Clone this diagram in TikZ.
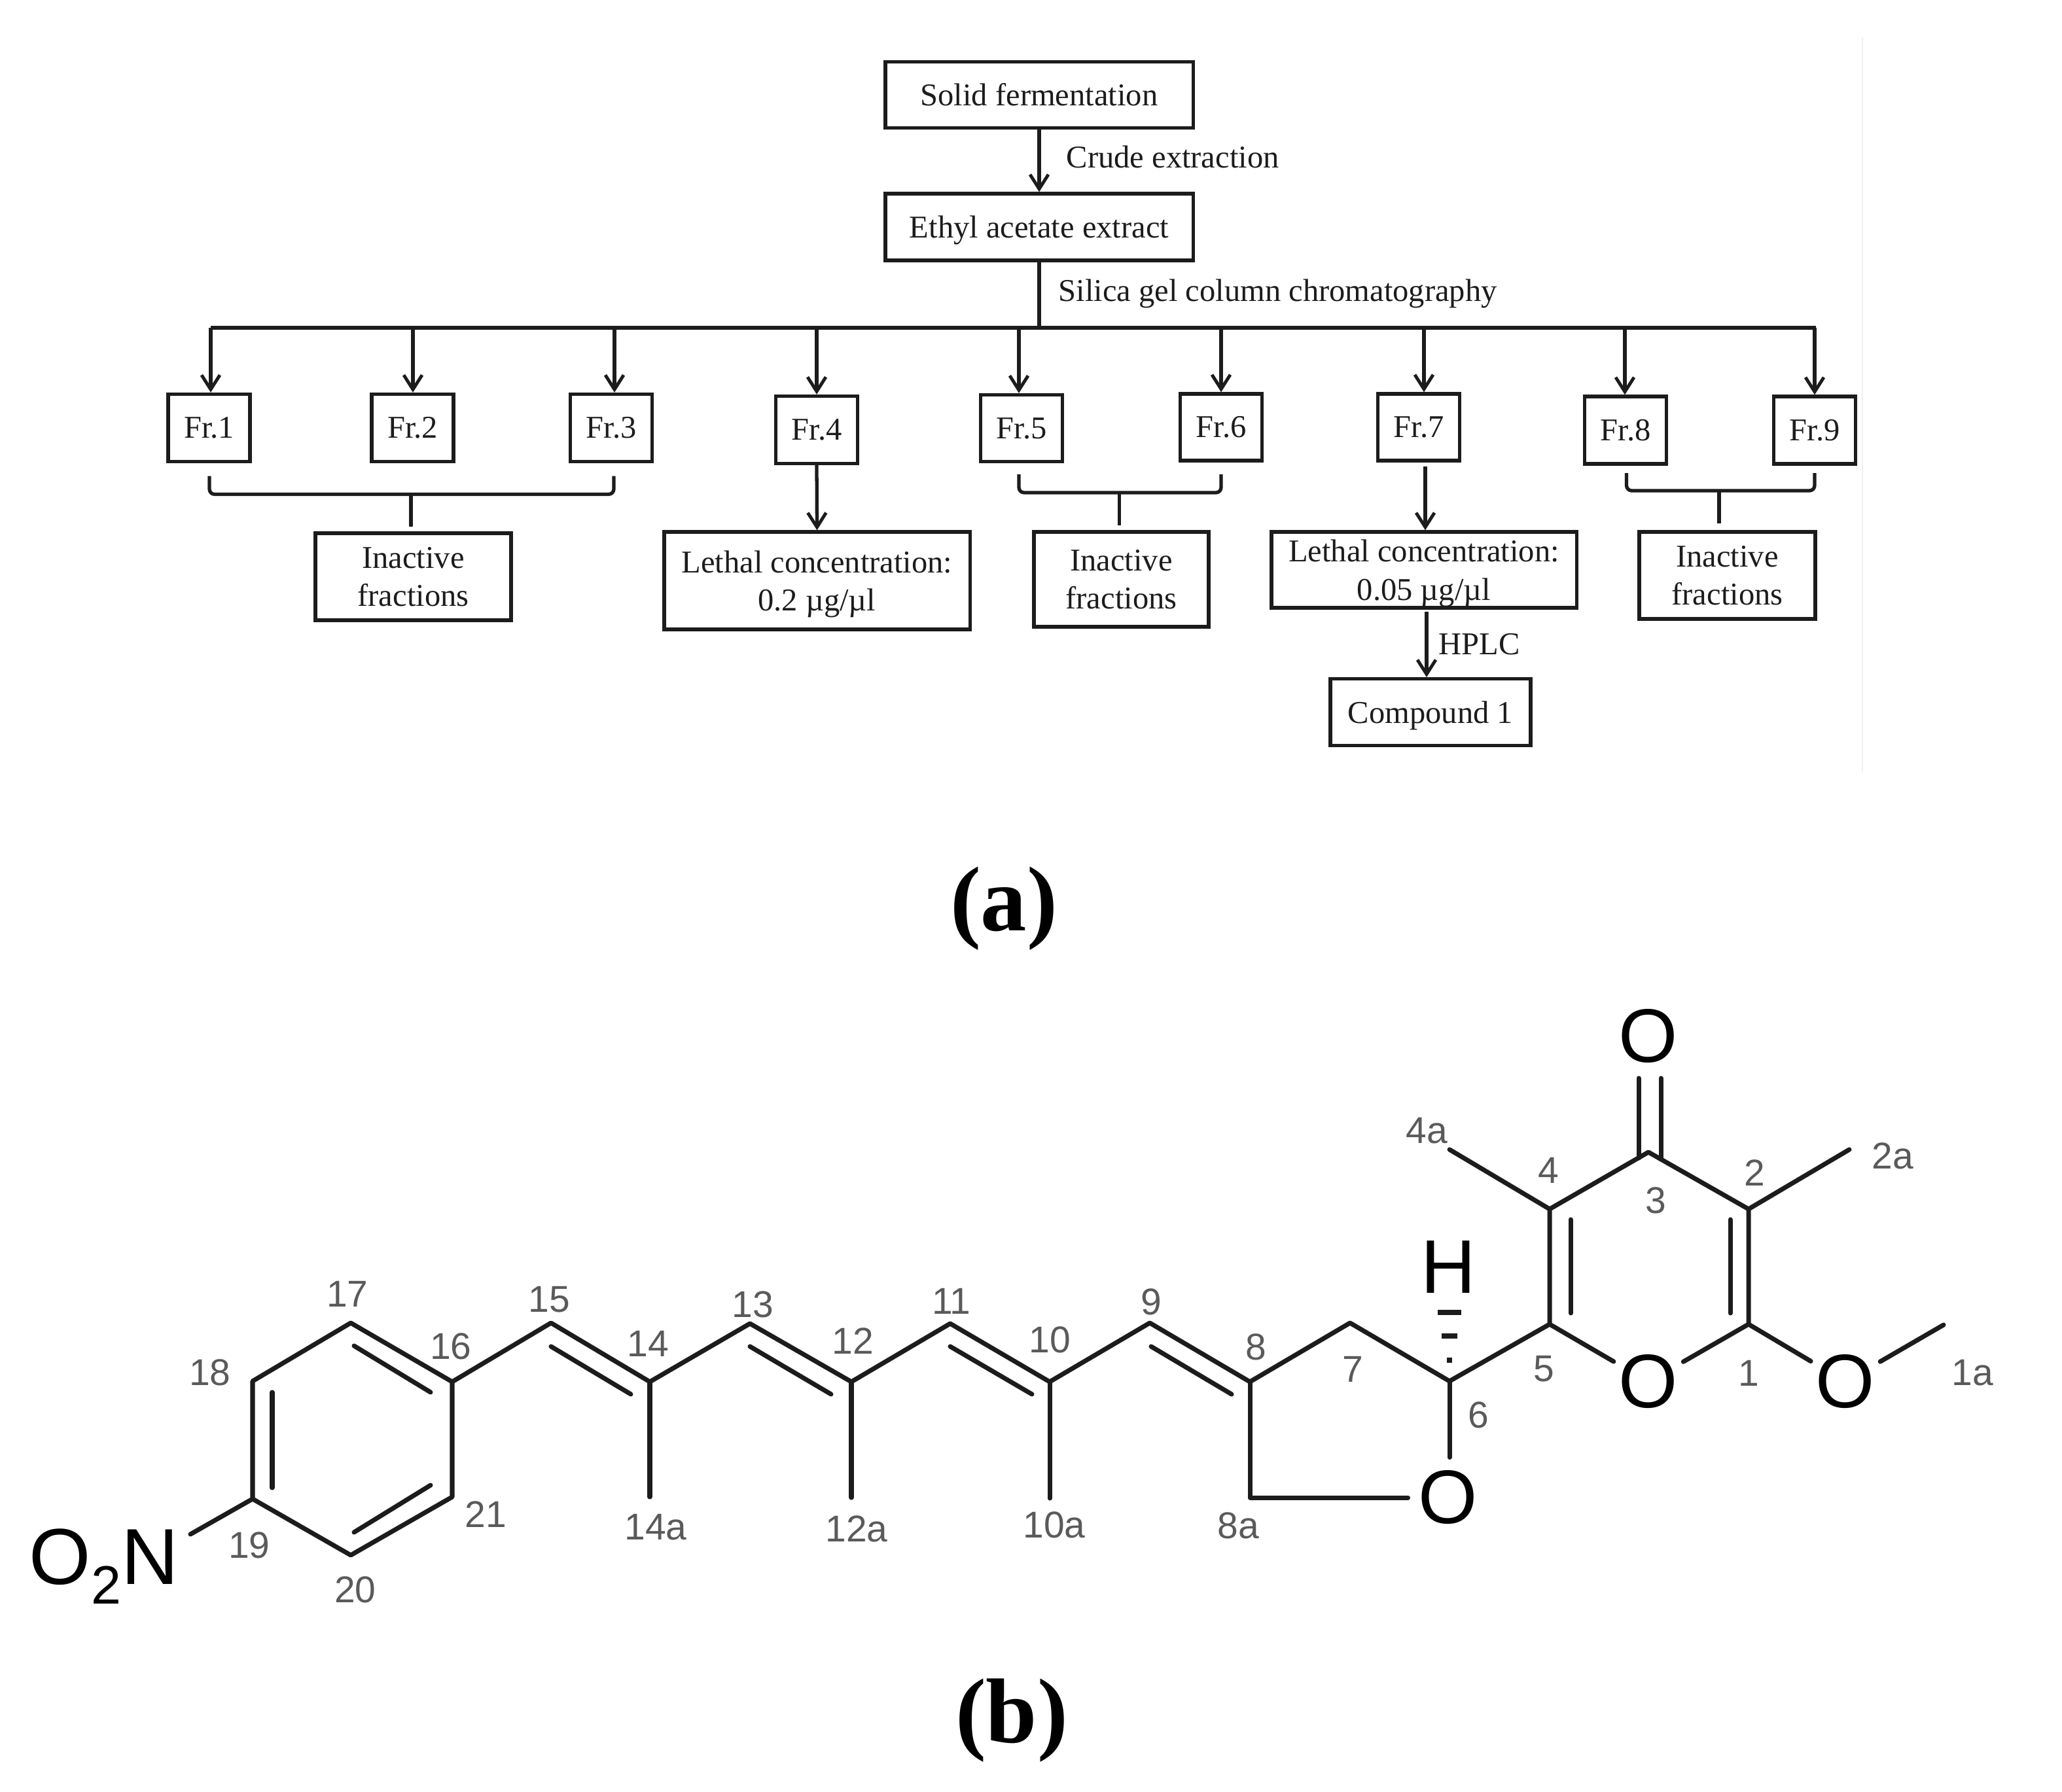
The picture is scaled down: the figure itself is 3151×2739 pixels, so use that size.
\documentclass[tikz,border=0pt]{standalone}
\usepackage{fontspec}
\setmainfont{Liberation Serif}
\newfontfamily\molfont{Liberation Sans}
\usetikzlibrary{arrows.meta}
\definecolor{ink}{HTML}{1C1C1C}
\definecolor{numgray}{HTML}{5A5A5A}
\definecolor{faint}{HTML}{F0F0F0}
\tikzset{
  fbox/.style={draw=ink,line width=1.5pt,fill=white,inner sep=0pt,align=center,text=ink,
    font=\fontsize{13.8}{16.6}\selectfont},
  nodepth/.style={text depth=0pt},
  flabel/.style={inner sep=0pt,anchor=west,text=ink,font=\fontsize{13.8}{16.6}\selectfont},
  flow/.style={draw=ink,line width=1.5pt},
  arr/.style={flow,-{Straight Barb[length=2.2mm,width=2.8mm,line width=1.4pt]}},
  brk/.style={flow,rounded corners=0.08cm},
  panel/.style={inner sep=0pt,text=black,font=\fontsize{40}{44}\selectfont\bfseries},
  bond/.style={draw=ink,line width=2pt,line cap=round,line join=round},
  atom/.style={circle,inner sep=0pt,minimum size=1.2cm,text=black,
    font=\molfont\fontsize{33}{36}\selectfont},
  num/.style={inner sep=0pt,text=numgray,font=\molfont\fontsize{16.2}{18}\selectfont},
}
\begin{document}
\begin{tikzpicture}[x=0.01cm,y=-0.01cm]
\useasboundingbox[fill=white] (0,0) rectangle (3151,2739);
\draw[faint,line width=0.8pt] (2846,57) -- (2846,1180);

% --- flow chart boxes
\node[fbox,minimum width=4.7cm,minimum height=1.01cm] (solid) at (1588,145) {Solid fermentation};
\node[fbox,nodepth,minimum width=4.7cm,minimum height=1.02cm] (ethyl) at (1588,347) {Ethyl acetate extract};
\node[fbox,minimum width=1.25cm,minimum height=1.03cm] (fr1) at (319.5,654) {Fr.1};
\node[fbox,minimum width=1.25cm,minimum height=1.03cm] (fr2) at (630.5,654) {Fr.2};
\node[fbox,minimum width=1.25cm,minimum height=1.03cm] (fr3) at (934,654) {Fr.3};
\node[fbox,minimum width=1.25cm,minimum height=1.03cm] (fr4) at (1248,657) {Fr.4};
\node[fbox,minimum width=1.25cm,minimum height=1.02cm] (fr5) at (1561,654.5) {Fr.5};
\node[fbox,minimum width=1.25cm,minimum height=1.02cm] (fr6) at (1866,653) {Fr.6};
\node[fbox,minimum width=1.25cm,minimum height=1.02cm] (fr7) at (2168,653) {Fr.7};
\node[fbox,minimum width=1.25cm,minimum height=1.03cm] (fr8) at (2484,657.5) {Fr.8};
\node[fbox,minimum width=1.25cm,minimum height=1.03cm] (fr9) at (2773,657.5) {Fr.9};
\node[fbox,minimum width=2.99cm,minimum height=1.33cm] (ina1) at (631.5,881.5) {Inactive\\fractions};
\node[fbox,nodepth,minimum width=4.67cm,minimum height=1.49cm] (leth1) at (1248.5,887.5) {Lethal concentration:\\0.2 µg/µl};
\node[fbox,minimum width=2.67cm,minimum height=1.45cm] (ina2) at (1713.5,885.5) {Inactive\\fractions};
\node[fbox,nodepth,minimum width=4.66cm,minimum height=1.16cm] (leth2) at (2176,871) {Lethal concentration:\\0.05 µg/µl};
\node[fbox,minimum width=2.69cm,minimum height=1.33cm] (ina3) at (2639.5,879.5) {Inactive\\fractions};
\node[fbox,nodepth,minimum width=3.06cm,minimum height=1.015cm] (comp) at (2186,1088.5) {Compound 1};

% --- flow labels
\node[flabel] (lcrude) at (1629,240) {Crude extraction};
\node[flabel] (lsilica) at (1617,449) {Silica gel column chromatography};
\node[flabel] (lhplc) at (2198,985) {HPLC};
\node[panel] (pa) at (1534,1389) {(a)};
\node[panel] (pb) at (1546,2630) {(b)};

% --- flow connectors
\draw[arr] (solid.south) -- (ethyl.north);
\coordinate (busL) at (322,501);
\coordinate (busR) at (2775,501);
\draw[flow] (ethyl.south) -- (ethyl.south |- busL);
\draw[flow] (busL) -- (busR);
\coordinate (t1) at (322,501);
\coordinate (t2) at (631,501);
\coordinate (t3) at (939,501);
\coordinate (t4) at (1248,501);
\coordinate (t5) at (1557,501);
\coordinate (t6) at (1866,501);
\coordinate (t7) at (2176,501);
\coordinate (t8) at (2483,501);
\coordinate (t9) at (2773,501);
\foreach \i in {1,...,9} { \draw[arr] (t\i) -- (t\i |- fr\i.north); }
\draw[arr] (fr4.south) -- (leth1.north);
\coordinate (f7a) at (2178,713);
\draw[arr] (f7a) -- (f7a |- leth2.north);
\coordinate (l2a) at (2180,935);
\draw[arr] (l2a) -- (l2a |- comp.north);

% brackets
\coordinate (b1l) at (320,727.5); \coordinate (b1r) at (938,727.5);
\coordinate (b1m) at (628,755.5); \coordinate (b1e) at (628,805);
\draw[brk] (b1l) |- (b1m) -| (b1r);
\draw[flow] (b1m) -- (b1e);
\coordinate (b2l) at (1557,725); \coordinate (b2r) at (1866,725);
\coordinate (b2m) at (1710.5,753); \coordinate (b2e) at (1710.5,803);
\draw[brk] (b2l) |- (b2m) -| (b2r);
\draw[flow] (b2m) -- (b2e);
\coordinate (b3l) at (2485.5,723); \coordinate (b3r) at (2773,723);
\coordinate (b3m) at (2627,750); \coordinate (b3e) at (2627,800);
\draw[brk] (b3l) |- (b3m) -| (b3r);
\draw[flow] (b3m) -- (b3e);

% --- molecule atoms
\foreach \n/\x/\y in {c17/536/2022,c18/386/2111,c19/386/2291,c20/536/2377,c21/691/2288,c16/691/2112,
  c15/842/2022,c14/993/2112,c13/1146/2023,c12/1301/2112,c11/1452/2023,c10/1604/2112,c9/1757/2022,
  c8/1910/2112,c7/2063/2022,c6/2215/2111,c5/2368/2024,c1/2672/2024,c2/2672/1848,c3/2519/1761,c4/2368/1848,
  c8a/1910/2289,m1a/2970/2025,m2a/2826/1757,m4a/2215/1757,m10a/1604/2290,m12a/1301/2289,m14a/993/2288,nb/291/2345}
  { \coordinate (\n) at (\x,\y); }
\node[atom] (oring) at (2519,2112) {O};
\node[atom] (ome) at (2820,2112) {O};
\node[atom] (ocarb) at (2519,1584) {O};
\node[atom] (ofur) at (2213,2289) {O};
\node[atom] (hatom) at (2213,1937) {H};
\node[inner sep=0pt,anchor=base west,text=black,font=\molfont\fontsize{34.5}{37}\selectfont] (no2) at (44,2421)
  {O\raisebox{-0.25em}{\fontsize{23.5}{25}\selectfont 2}N};

% --- skeleton
\draw[bond] (nb) -- (c19) -- (c18) -- (c17) -- (c16) -- (c21) -- (c20) -- (c19);
\draw[bond] (c16) -- (c15) -- (c14) -- (c13) -- (c12) -- (c11) -- (c10) -- (c9) -- (c8) -- (c7) -- (c6) -- (c5) -- (c4) -- (c3) -- (c2) -- (c1);
\draw[bond] (c14) -- (m14a);
\draw[bond] (c12) -- (m12a);
\draw[bond] (c10) -- (m10a);
\draw[bond] (c8) -- (c8a) -- (ofur);
\draw[bond] (c6) -- (c6 |- ofur.north);
\draw[bond] (c5) -- (oring);
\draw[bond] (c1) -- (oring);
\draw[bond] (c1) -- (ome);
\draw[bond] (ome) -- (m1a);
\draw[bond] (c2) -- (m2a);
\draw[bond] (c4) -- (m4a);
% double bond second strokes
\draw[bond] (541,2057) -- (658,2128);
\draw[bond] (416,2128) -- (416,2274);
\draw[bond] (541,2342) -- (658,2270);
\draw[bond] (842,2058) -- (964,2131);
\draw[bond] (1146,2058) -- (1270,2131);
\draw[bond] (1452,2058) -- (1577,2131);
\draw[bond] (1759,2058) -- (1882,2131);
\draw[bond] (2400,1864) -- (2400,2007);
\draw[bond] (2644,1864) -- (2644,2007);
\draw[bond] (2504,1648) -- (2504,1770);
\draw[bond] (2538,1648) -- (2538,1772);
% hashed bond to H
\foreach \y/\w in {2006/18,2042/12,2079/4}
  { \fill[ink] (2215-\w,\y-4) rectangle (2215+\w,\y+4); }

% --- atom numbers
\foreach \t/\x/\y in {17/531/1978,15/839/1986,13/1150/1994,11/1454/1989,16/689/2058,14/990/2054,12/1303/2050,
  18/321/2098,21/742/2315,19/381/2362,20/543/2430,14a/1002/2334,12a/1309/2337,10/1604/2048,10a/1611/2331,
  9/1759/1990,8/1919/2059,8a/1892/2332,7/2067/2093,6/2259/2163,5/2359/2092,1/2672/2099,1a/3014/2098,
  3/2530/1835,4/2366/1789,2/2681/1793,4a/2180/1728,2a/2892/1767}
  { \node[num] (n\t) at (\x,\y) {\t}; }
\end{tikzpicture}
\end{document}
